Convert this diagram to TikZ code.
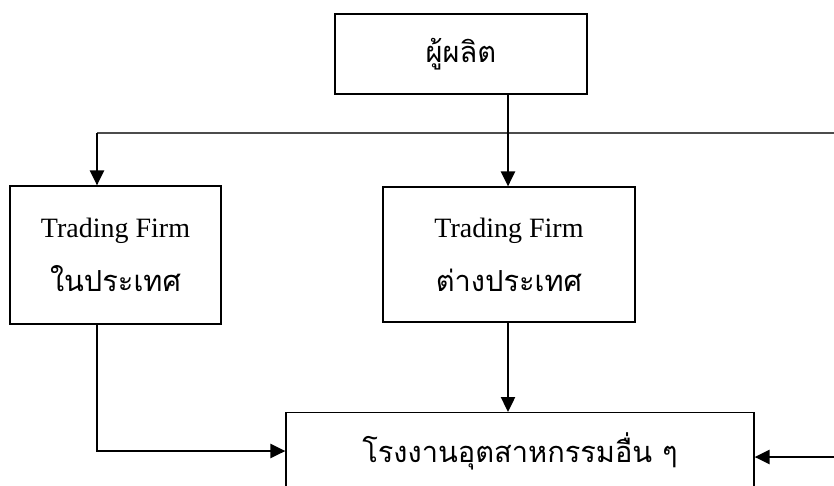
\documentclass[tikz,border=0pt]{standalone}
\usepackage{fontspec}
\setmainfont{Liberation Serif}
\newfontfamily\thai[Script=Thai]{Loma}
\usetikzlibrary{arrows.meta,calc}
\begin{document}
\begin{tikzpicture}[x=1pt,y=-1pt,
  boxstyle/.style={draw=black,line width=1.2pt,rectangle,inner sep=0pt,align=center,font=\fontsize{28}{40}\selectfont},
  thaitext/.style={font=\fontsize{29}{40}\selectfont\thai},
  arr/.style={line width=2.4pt,-{Triangle[length=15pt,width=14pt]}},
  feed/.style={draw=black!70,line width=1.6pt}]
\useasboundingbox (0,0) rectangle (834,485);
\clip (0,0) rectangle (834,485);
\node[boxstyle,minimum width=252pt,minimum height=80pt] (prod) at (461,54) {\fontsize{29}{40}\selectfont\thai ผู้ผลิต};
\node[boxstyle,minimum width=211pt,minimum height=138pt] (tfd) at (115.5,255) {Trading Firm\\[14pt]{\fontsize{29}{40}\selectfont\thai ในประเทศ}};
\node[boxstyle,minimum width=252pt,minimum height=135pt] (tff) at (509,254.5) {Trading Firm\\[14pt]{\fontsize{29}{40}\selectfont\thai ต่างประเทศ}};
\node[boxstyle,anchor=north,minimum width=468pt,text height=40pt,text depth=70pt,inner ysep=10pt] (fac) at (520,412) {\fontsize{29}{40}\selectfont\thai โรงงานอุตสาหกรรมอื่น ๆ};
\coordinate (hl) at (97,133);
\coordinate (hr) at (840,133);
\coordinate (xb) at (508,0);
\coordinate (lj) at (0,451);
\coordinate (rr) at (840,457);
\draw[feed] (hr) -- (hl);
\draw[arr] (hl) -- (hl |- tfd.north);
\draw[arr] (prod.south -| xb) -- (tff.north -| xb);
\draw[arr] (tff.south -| xb) -- (fac.north -| xb);
\draw[arr] (tfd.south -| hl) |- (fac.west |- lj);
\draw[arr] (rr) -- (fac.east |- rr);
\end{tikzpicture}
\end{document}
